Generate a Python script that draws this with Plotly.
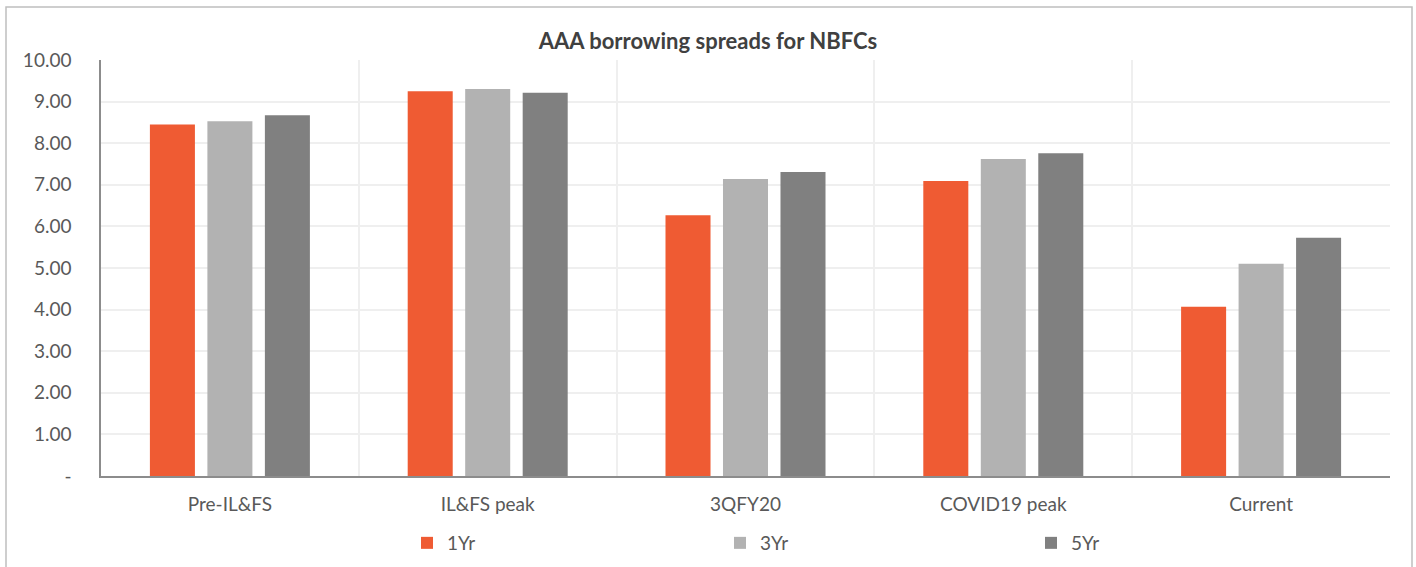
import plotly.graph_objects as go

categories = ["Pre-IL&FS", "IL&FS peak", "3QFY20", "COVID19 peak", "Current"]
series_names = ["1Yr", "3Yr", "5Yr"]
yr1 = [8.45, 9.25, 6.27, 7.09, 4.07]
yr3 = [8.53, 9.30, 7.14, 7.62, 5.10]
yr5 = [8.67, 9.21, 7.31, 7.76, 5.73]
colors = ["#EF5B33", "#B2B2B2", "#808080"]
y_tickvals = [0, 1, 2, 3, 4, 5, 6, 7, 8, 9, 10]
y_ticktext = ["-", "1.00", "2.00", "3.00", "4.00", "5.00", "6.00", "7.00", "8.00", "9.00", "10.00"]

FONT = "Lato"
TXT = "#595959"
FS = 19

L, R, T, B = 101, 26, 60, 91
PW = 1416 - L - R
PH = 567 - T - B

legend_ids = ["legend", "legend2", "legend3"]
legend_px = [407, 720, 1031]  # left pixel of each legend box

fig = go.Figure()
for name, vals, col, lid in zip(series_names, [yr1, yr3, yr5], colors, legend_ids):
    fig.add_trace(go.Bar(x=categories, y=vals, name=name, legend=lid,
                         marker=dict(color=col, line=dict(width=0))))

legend_common = dict(orientation="h", xanchor="left", yanchor="middle",
                     yref="container", y=1 - 543 / 567,
                     font=dict(family=FONT, size=FS, color=TXT),
                     bgcolor="rgba(0,0,0,0)", itemwidth=30)

fig.update_layout(
    width=1416, height=567,
    margin=dict(l=L, r=R, t=T, b=B, autoexpand=False),
    paper_bgcolor="white", plot_bgcolor="white",
    barmode="group", bargap=0.331, bargroupgap=0.217,
    font=dict(family=FONT, color=TXT, size=FS),
    title=dict(text="<b>AAA borrowing spreads for NBFCs</b>", x=0.5, xanchor="center",
               y=1 - 41 / 567, yref="container", yanchor="middle",
               font=dict(family=FONT, size=22, color="#404040")),
    showlegend=True,
    legend=dict(x=(legend_px[0] - L) / PW, **legend_common),
    legend2=dict(x=(legend_px[1] - L) / PW, **legend_common),
    legend3=dict(x=(legend_px[2] - L) / PW, **legend_common),
    xaxis=dict(showline=True, linecolor="#8C8C8C", linewidth=1.5,
               showgrid=True, gridcolor="#EFEFEF", gridwidth=1.5,
               tickson="boundaries", ticks="", ticklabelstandoff=10,
               tickfont=dict(family=FONT, size=FS, color=TXT)),
    yaxis=dict(range=[0, 10], tickvals=y_tickvals, ticktext=y_ticktext,
               showline=True, linecolor="#8C8C8C", linewidth=1.5,
               showgrid=True, gridcolor="#EFEFEF", gridwidth=1.5,
               zeroline=False, ticks="", ticklabelstandoff=24,
               tickfont=dict(family=FONT, size=FS, color=TXT)),
)

# outer chart frame
fig.add_shape(type="rect", xref="paper", yref="paper",
              x0=-95 / PW, x1=1311 / PW, y0=-100 / PH, y1=469 / PH,
              line=dict(color="#BFBFBF", width=1.5), fillcolor="rgba(0,0,0,0)", layer="below")

fig.write_html("out.html")
